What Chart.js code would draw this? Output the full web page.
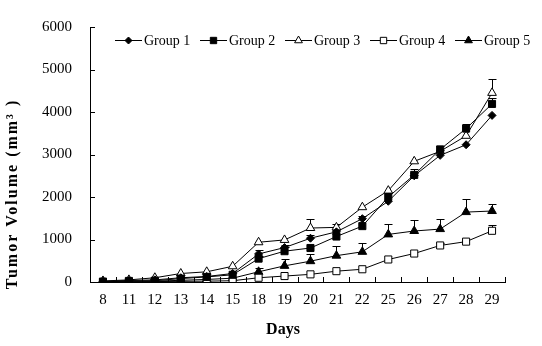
<!DOCTYPE html>
<html lang="en">
<head>
    <meta charset="UTF-8">
    <title>Tumor Volume</title>
    <script src="https://cdn.jsdelivr.net/npm/chart.js"></script>
    <style>
        body {
            margin: 0;
            padding: 0;
            background: #fff;
        }
        canvas {
            display: block;
        }
    </style>
</head>
<body>
    <canvas id="tumorChart" width="542" height="346"></canvas>

    <script>
        // Data
        const days = ['8', '11', '12', '13', '14', '15', '18', '19', '20', '21', '22', '25', '26', '27', '28', '29'];
        const groupNames = ['Group 1', 'Group 2', 'Group 3', 'Group 4', 'Group 5'];

        const group1 = [15, 35, 50, 100, 130, 200, 660, 810, 1030, 1180, 1490, 1900, 2500, 2980, 3230, 3920];
        const group2 = [10, 25, 30, 80, 120, 170, 550, 725, 800, 1070, 1315, 2000, 2520, 3120, 3610, 4190];
        const group3 = [25, 50, 100, 200, 240, 370, 935, 990, 1270, 1285, 1760, 2150, 2840, 3075, 3440, 4450];
        const group4 = [0, 5, 10, 15, 20, 30, 100, 140, 180, 255, 300, 530, 670, 860, 950, 1205];
        const group5 = [10, 15, 20, 40, 60, 90, 240, 380, 490, 620, 710, 1120, 1200, 1245, 1645, 1670];

        // upper error bars (SD), 0 where none is visible
        const group1Err = [0, 0, 0, 0, 0, 0, 100, 60, 80, 50, 70, 0, 60, 120, 0, 0];
        const group2Err = [0, 0, 0, 0, 0, 0, 70, 110, 0, 60, 0, 0, 150, 80, 100, 130];
        const group3Err = [0, 0, 0, 0, 0, 0, 0, 0, 205, 70, 0, 0, 0, 0, 0, 320];
        const group4Err = [0, 0, 0, 0, 0, 0, 0, 0, 0, 0, 0, 0, 0, 60, 0, 130];
        const group5Err = [0, 0, 0, 0, 0, 0, 100, 150, 175, 225, 210, 240, 255, 230, 300, 155];

        const yTicks = [0, 1000, 2000, 3000, 4000, 5000, 6000];

        const seriesValues = [group1, group2, group3, group4, group5];
        const seriesErrors = [group1Err, group2Err, group3Err, group4Err, group5Err];
        const markerStyles = ['rectRot', 'rect', 'triangle', 'rect', 'triangle'];
        const markerRadius = [4, 5, 5, 5, 5];
        const markerFill = ['#000', '#000', '#fff', '#fff', '#000'];

        const FONT = '"Liberation Serif", "Times New Roman", serif';
        const legendX = [115, 200, 285, 370, 455]; // left end of each legend item

        const datasets = groupNames.map((name, i) => ({
            label: name,
            data: seriesValues[i],
            errors: seriesErrors[i],
            borderColor: '#000',
            borderWidth: 1,
            backgroundColor: markerFill[i],
            pointStyle: markerStyles[i],
            pointRadius: markerRadius[i],
            pointBorderColor: '#000',
            pointBackgroundColor: markerFill[i],
            pointBorderWidth: 1,
            tension: 0,
            fill: false
        }));

        function drawMarker(ctx, style, r, x, y, fillCol) {
            ctx.save();
            ctx.fillStyle = fillCol;
            ctx.strokeStyle = '#000';
            ctx.lineWidth = 1;
            ctx.beginPath();
            if (style === 'rectRot') {
                ctx.moveTo(x, y - r); ctx.lineTo(x + r, y); ctx.lineTo(x, y + r); ctx.lineTo(x - r, y);
            } else if (style === 'rect') {
                const s = Math.SQRT1_2 * r;
                ctx.rect(x - s, y - s, 2 * s, 2 * s);
            } else {
                ctx.moveTo(x, y - r);
                ctx.lineTo(x + Math.sin(2 * Math.PI / 3) * r, y - Math.cos(2 * Math.PI / 3) * r);
                ctx.lineTo(x + Math.sin(4 * Math.PI / 3) * r, y - Math.cos(4 * Math.PI / 3) * r);
            }
            ctx.closePath();
            ctx.fill();
            ctx.stroke();
            ctx.restore();
        }

        // error bars, inside tick marks, legend and axis titles
        const extras = {
            id: 'extras',
            beforeDatasetsDraw(chart) {
                const ctx = chart.ctx;
                const yScale = chart.scales.y;
                ctx.save();
                ctx.strokeStyle = '#000';
                ctx.lineWidth = 1;
                chart.data.datasets.forEach((ds, i) => {
                    const meta = chart.getDatasetMeta(i);
                    ds.errors.forEach((err, j) => {
                        if (!err) return;
                        const pt = meta.data[j];
                        const x = Math.round(pt.x) + 0.5;
                        const yTop = Math.round(yScale.getPixelForValue(ds.data[j] + err)) + 0.5;
                        ctx.beginPath();
                        ctx.moveTo(x, pt.y);
                        ctx.lineTo(x, yTop);
                        ctx.moveTo(x - 4, yTop);
                        ctx.lineTo(x + 4, yTop);
                        ctx.stroke();
                    });
                });
                ctx.restore();
            },
            afterDraw(chart) {
                const ctx = chart.ctx;
                const area = chart.chartArea;
                const xScale = chart.scales.x;
                const yScale = chart.scales.y;
                ctx.save();
                ctx.strokeStyle = '#000';
                ctx.lineWidth = 1;

                // x tick marks between categories, pointing up
                const n = days.length;
                ctx.beginPath();
                for (let i = 1; i <= n; i++) {
                    const x = Math.round(xScale.left + i * (xScale.right - xScale.left) / n) + 0.5;
                    ctx.moveTo(x, area.bottom);
                    ctx.lineTo(x, area.bottom - 5);
                }
                // y tick marks, pointing right
                yTicks.forEach(v => {
                    const y = Math.round(yScale.getPixelForValue(v)) + 0.5;
                    ctx.moveTo(area.left, y);
                    ctx.lineTo(area.left + 5, y);
                });
                ctx.stroke();

                // legend
                ctx.font = '14px ' + FONT;
                ctx.fillStyle = '#000';
                ctx.textBaseline = 'middle';
                ctx.textAlign = 'left';
                const ly = 40;
                groupNames.forEach((name, i) => {
                    const lx = legendX[i];
                    ctx.beginPath();
                    ctx.moveTo(lx, ly + 0.5);
                    ctx.lineTo(lx + 27, ly + 0.5);
                    ctx.stroke();
                    drawMarker(ctx, markerStyles[i], markerRadius[i] - 0.5, lx + 13.5, ly + 0.5, markerFill[i]);
                    ctx.fillStyle = '#000';
                    ctx.fillText(name, lx + 29, ly + 1);
                });

                // axis titles
                ctx.font = 'bold 16px ' + FONT;
                ctx.textAlign = 'center';
                ctx.fillText('Days', 283, 330);
                ctx.letterSpacing = '2px';
                ctx.translate(13, 194);
                ctx.rotate(-Math.PI / 2);
                ctx.fillText('Tumor Volume (mm\u00B3 )', 0, 0);
                ctx.restore();
            }
        };

        const ctx = document.getElementById('tumorChart').getContext('2d');
        const chart = new Chart(ctx, {
            type: 'line',
            data: {
                labels: days,
                datasets: datasets
            },
            options: {
                responsive: false,
                devicePixelRatio: 1,
                animation: false,
                layout: {
                    padding: { top: 23, right: 37, left: 0, bottom: 0 }
                },
                scales: {
                    x: {
                        offset: true,
                        grid: { display: false, drawTicks: false },
                        border: { display: true, color: '#000', width: 1 },
                        ticks: {
                            color: '#000',
                            font: { family: FONT, size: 15 },
                            padding: 9,
                            maxRotation: 0,
                            autoSkip: false
                        },
                        afterFit: s => { s.height = 64; }
                    },
                    y: {
                        min: 0,
                        max: 6000,
                        grid: { display: false, drawTicks: false },
                        border: { display: true, color: '#000', width: 1 },
                        ticks: {
                            color: '#000',
                            font: { family: FONT, size: 15 },
                            stepSize: 1000,
                            padding: 18,
                            callback: v => String(v)
                        },
                        afterFit: s => { s.width = 90; }
                    }
                },
                plugins: {
                    legend: { display: false },
                    tooltip: { enabled: false }
                }
            },
            plugins: [extras]
        });
    </script>
</body>
</html>
